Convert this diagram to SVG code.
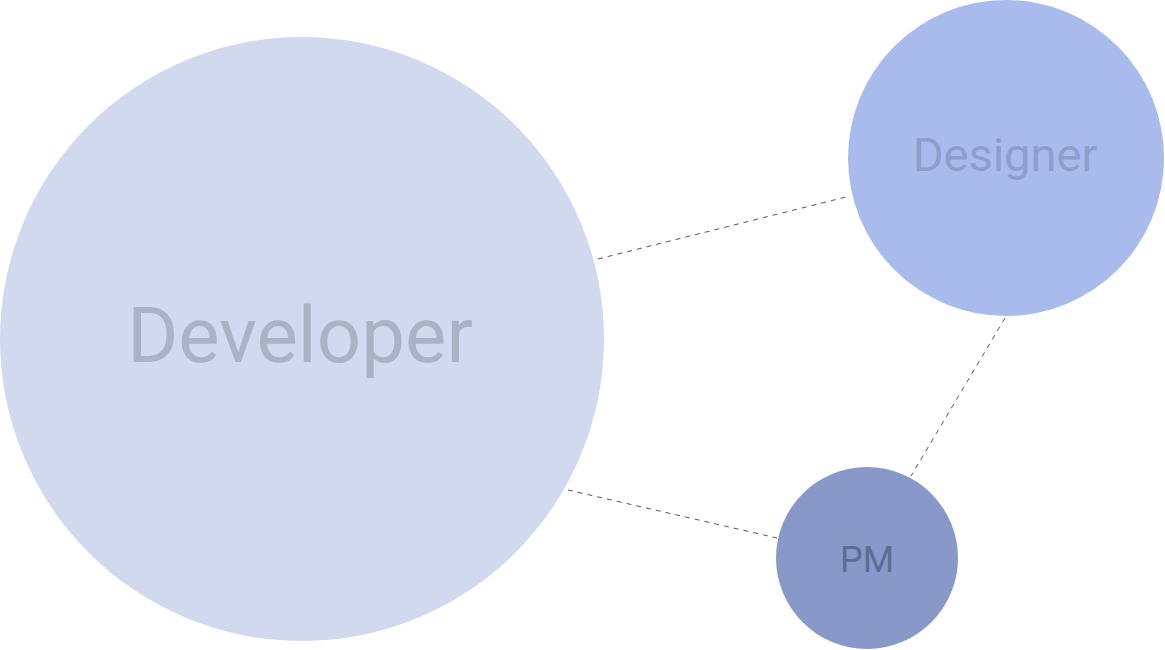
<svg xmlns="http://www.w3.org/2000/svg" width="1165" height="650" viewBox="0 0 1165 650">
<style>
.edge{stroke:#555;stroke-width:1;stroke-dasharray:5 5;fill:none}
.lbl{font-family:Roboto,"Liberation Sans",sans-serif;text-anchor:middle}
</style>
<rect width="1165" height="650" fill="#fff"/>
<g id="connectors">
<line class="edge" x1="598" y1="259" x2="850" y2="196"/>
<line class="edge" x1="568" y1="490" x2="777" y2="538"/>
<line class="edge" x1="1005" y1="318" x2="911" y2="476"/>
</g>
<g id="developer">
<circle cx="302" cy="339" r="302" fill="#D1D9EE"/>
<text class="lbl" x="300" y="362" font-size="78" fill="#AAB3C4">Developer</text>
</g>
<g id="designer">
<circle cx="1006" cy="158" r="158" fill="#A9BBEC"/>
<text class="lbl" x="1005" y="171" font-size="47" fill="#8D9ECB">Designer</text>
</g>
<g id="pm">
<circle cx="867" cy="558" r="91" fill="#8898C8"/>
<text class="lbl" x="867" y="572" font-size="36" fill="#5E6C91">PM</text>
</g>
</svg>
